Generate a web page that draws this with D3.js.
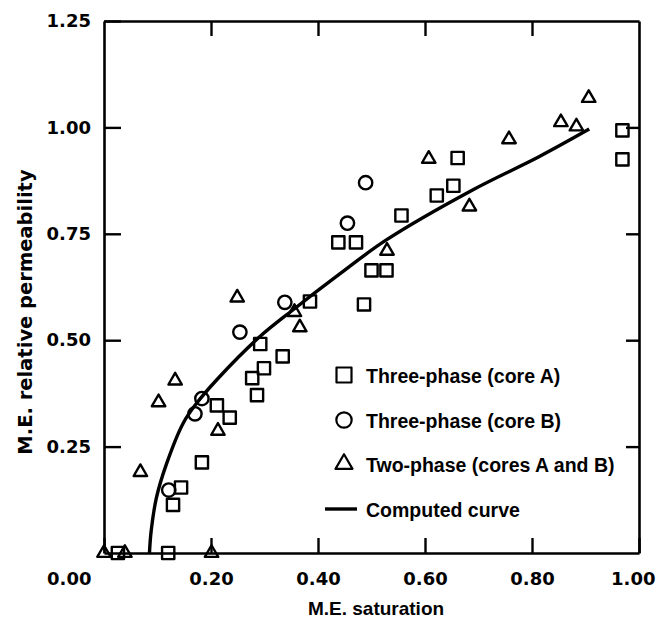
<!DOCTYPE html>
<html>
<head>
<meta charset="utf-8">
<script src="https://cdn.jsdelivr.net/npm/d3@7"></script>
<style>
  body { margin: 0; background: #fff; }
  .tick text { font-family: "DejaVu Sans", sans-serif; font-weight: bold; font-size: 18px; fill: #000; }
</style>
</head>
<body>
<div class="vis-scatter"></div>
<script>
// Three-phase (core A) squares: [saturation, rel. permeability]
const coreA = [
  [0.026, 0], [0.12, 0], [0.129, 0.113], [0.144, 0.154], [0.183, 0.213],
  [0.211, 0.347], [0.235, 0.318], [0.277, 0.411], [0.286, 0.371], [0.292, 0.491],
  [0.299, 0.434], [0.334, 0.462], [0.385, 0.591], [0.438, 0.73], [0.471, 0.73],
  [0.486, 0.584], [0.5, 0.664], [0.528, 0.664], [0.556, 0.793], [0.622, 0.84],
  [0.653, 0.863], [0.661, 0.928], [0.969, 0.993], [0.969, 0.925]
];
// Three-phase (core B) circles
const coreB = [
  [0.121, 0.148], [0.17, 0.327], [0.183, 0.363], [0.254, 0.519],
  [0.338, 0.589], [0.455, 0.775], [0.489, 0.87]
];
// Two-phase (cores A and B) triangles
const twoPhase = [
  [0.0, 0], [0.039, 0], [0.201, 0], [0.068, 0.19], [0.102, 0.354],
  [0.133, 0.405], [0.213, 0.287], [0.249, 0.6], [0.356, 0.566], [0.366, 0.53],
  [0.529, 0.71], [0.607, 0.926], [0.683, 0.814], [0.757, 0.972],
  [0.854, 1.012], [0.883, 1.002], [0.906, 1.069]
];
// Computed curve
const curve = [
  [0.085, 0], [0.088, 0.05], [0.098, 0.13], [0.117, 0.21], [0.148, 0.305],
  [0.172, 0.35], [0.213, 0.41], [0.291, 0.508], [0.353, 0.571], [0.44, 0.655],
  [0.527, 0.735], [0.689, 0.853], [0.813, 0.931], [0.907, 0.996]
];
const xTicks = [0, 0.2, 0.4, 0.6, 0.8, 1.0];
const yTicks = [0.25, 0.5, 0.75, 1.0, 1.25];
const legendLabels = [
  'Three-phase (core A)',
  'Three-phase (core B)',
  'Two-phase (cores A and B)',
  'Computed curve'
];

const draw = () => {
  const width = 656;
  const height = 619;
  const left = 104, right = 639, top = 21, bottom = 553;

  const svg = d3
    .select('.vis-scatter')
    .append('svg')
    .attr('width', width)
    .attr('height', height);

  const x = d3.scaleLinear().domain([0, 1]).range([left, right]);
  const y = d3.scaleLinear().domain([0, 1.25]).range([bottom, top]);

  const styleAxis = (g) => {
    g.selectAll('path.domain').attr('stroke', '#000').attr('stroke-width', 2.6);
    g.selectAll('.tick line').attr('stroke', '#000').attr('stroke-width', 2.4);
  };

  // bottom axis (ticks point inward)
  const xAxis = svg
    .append('g')
    .attr('transform', `translate(0,${bottom})`)
    .call(d3.axisBottom(x).tickValues(xTicks).tickSizeInner(-15).tickSizeOuter(0)
      .tickPadding(19).tickFormat(d3.format('.2f')))
    .call(styleAxis);
  // first and last labels sit at the corners
  xAxis.selectAll('.tick text')
    .filter((d) => d === 0)
    .attr('text-anchor', 'end')
    .attr('x', -13);
  xAxis.selectAll('.tick text')
    .filter((d) => d === 1)
    .attr('text-anchor', 'end')
    .attr('x', 16);

  // left axis
  svg
    .append('g')
    .attr('transform', `translate(${left},0)`)
    .call(d3.axisLeft(y).tickValues(yTicks).tickSizeInner(-17).tickSizeOuter(0)
      .tickPadding(13).tickFormat(d3.format('.2f')))
    .call(styleAxis);

  // top and right frame with inward ticks
  svg
    .append('g')
    .attr('transform', `translate(0,${top})`)
    .call(d3.axisTop(x).tickValues([0.2, 0.4, 0.6, 0.8]).tickSizeInner(-15)
      .tickSizeOuter(0).tickFormat(''))
    .call(styleAxis);
  svg
    .append('g')
    .attr('transform', `translate(${right},0)`)
    .call(d3.axisRight(y).tickValues([0.25, 0.5, 0.75, 1.0]).tickSizeInner(-13)
      .tickSizeOuter(0).tickFormat(''))
    .call(styleAxis);

  // axis titles
  svg
    .append('text')
    .attr('x', 376)
    .attr('y', 615)
    .attr('text-anchor', 'middle')
    .style('font-family', '"Liberation Sans", Arial, sans-serif')
    .style('font-weight', 'bold')
    .style('font-size', '19px')
    .text('M.E. saturation');
  svg
    .append('text')
    .attr('transform', 'translate(32,312) rotate(-90)')
    .attr('text-anchor', 'middle')
    .style('font-family', '"DejaVu Sans", sans-serif')
    .style('font-weight', 'bold')
    .style('font-size', '19.5px')
    .text('M.E. relative permeability');

  // computed curve
  svg
    .append('path')
    .datum(curve)
    .attr('fill', 'none')
    .attr('stroke', '#000')
    .attr('stroke-width', 3.4)
    .attr('d', d3.line()
      .x((d) => x(d[0]))
      .y((d) => y(d[1]))
      .curve(d3.curveCatmullRom.alpha(0.5)));

  const series = [
    { data: coreA, type: d3.symbolSquare, size: 150 },
    { data: coreB, type: d3.symbolCircle, size: 140 },
    { data: twoPhase, type: d3.symbolTriangle, size: 78 }
  ];

  series.forEach((s) => {
    svg
      .append('g')
      .selectAll('path')
      .data(s.data)
      .join('path')
      .attr('transform', (d) => `translate(${x(d[0])},${y(d[1])})`)
      .attr('d', d3.symbol().type(s.type).size(s.size))
      .attr('fill', 'none')
      .attr('stroke', '#000')
      .attr('stroke-width', 2.4)
      .attr('stroke-linejoin', 'round');
  });

  // legend
  const legend = svg.append('g');
  const legendSymbols = [
    { type: d3.symbolSquare, size: 225 },
    { type: d3.symbolCircle, size: 185 },
    { type: d3.symbolTriangle, size: 125 }
  ];
  const rowY = [375, 420, 464, 509];
  legendSymbols.forEach((s, i) => {
    legend
      .append('path')
      .attr('transform', `translate(344,${rowY[i]})`)
      .attr('d', d3.symbol().type(s.type).size(s.size))
      .attr('fill', 'none')
      .attr('stroke', '#000')
      .attr('stroke-width', 2.2)
      .attr('stroke-linejoin', 'round');
  });
  legend
    .append('line')
    .attr('x1', 325)
    .attr('x2', 357)
    .attr('y1', rowY[3])
    .attr('y2', rowY[3])
    .attr('stroke', '#000')
    .attr('stroke-width', 3.4);
  legend
    .selectAll('text')
    .data(legendLabels)
    .join('text')
    .attr('x', 366)
    .attr('y', (d, i) => rowY[i] + 8)
    .style('font-family', '"Liberation Sans", Arial, sans-serif')
    .style('font-weight', 'bold')
    .style('font-size', '19.5px')
    .text((d) => d);
};

draw();
</script>
</body>
</html>
